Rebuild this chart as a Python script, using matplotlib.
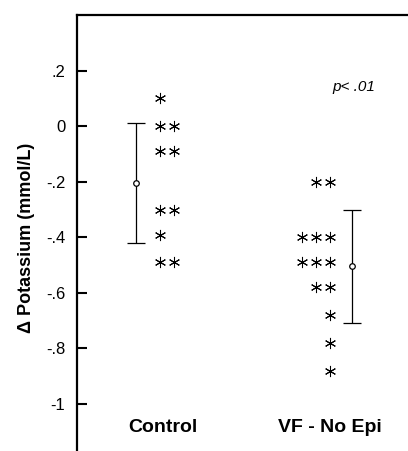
import matplotlib
matplotlib.use("Agg")
from matplotlib import pyplot as plt

# Dados
grupos = ["Control", "VF - No Epi"]
control_vals = [0.10, 0.0, -0.09, -0.30, -0.39, -0.49]
control_cont = [1, 2, 2, 2, 1, 2]
vf_vals = [-0.20, -0.40, -0.49, -0.58, -0.68, -0.78, -0.88]
vf_cont = [2, 3, 3, 2, 1, 1, 1]
medias = [-0.205, -0.505]
desvios = [0.215, 0.205]
y_ticks = [0.2, 0.0, -0.2, -0.4, -0.6, -0.8, -1.0]
y_labels = [".2", "0", "-.2", "-.4", "-.6", "-.8", "-1"]

plt.rcParams['font.family'] = ['Liberation Sans', 'DejaVu Sans']

fig = plt.figure(figsize=(4.08, 4.51), dpi=100)
ax = fig.add_axes([77 / 408, 0, 331 / 408, 1 - 15 / 451])

asterisco = dict(marker=(6, 2, 0), markersize=8, color='black',
                 markeredgewidth=0.75, linestyle='none')
passo = 0.082

# Control: asteriscos crescem para a direita
for v, n in zip(control_vals, control_cont):
    xs = [1 + i * passo for i in range(n)]
    ax.plot(xs, [v] * n, **asterisco)

# VF - No Epi: asteriscos alinhados a direita
for v, n in zip(vf_vals, vf_cont):
    xs = [2 - i * passo for i in range(n)]
    ax.plot(xs, [v] * n, **asterisco)

# Media +/- DP
pos_barras = [1 - 0.14, 2 + 0.13]
ax.errorbar(pos_barras, medias, yerr=desvios, fmt='o', color='black',
            mfc='white', mec='black', markersize=4, mew=0.9,
            elinewidth=0.9, capsize=6.5, capthick=1.8)

for x, nome in zip([1.02, 2.0], grupos):
    ax.text(x, -1.083, nome, ha='center', va='center',
            fontsize=14, fontweight='bold')

ax.text(2.14, 0.14, "p< .01", ha='center', va='center',
        fontsize=11, style='italic')

fig.text(27 / 408, 1 - 238 / 451, "Δ Potassium (mmol/L)", rotation=90,
         ha='center', va='center', fontsize=13, fontweight='bold')

ax.set_xlim(0.512, 2.459)
ax.set_ylim(-1.169, 0.40)
ax.set_yticks(y_ticks)
ax.set_yticklabels(y_labels, fontsize=12)
ax.set_xticks([])
ax.tick_params(axis='y', direction='in', length=7, width=1.5, pad=8.5)
for lado in ['right', 'bottom']:
    ax.spines[lado].set_visible(False)
for lado in ['left', 'top']:
    ax.spines[lado].set_linewidth(1.6)

fig.savefig("out.png", dpi=100)
